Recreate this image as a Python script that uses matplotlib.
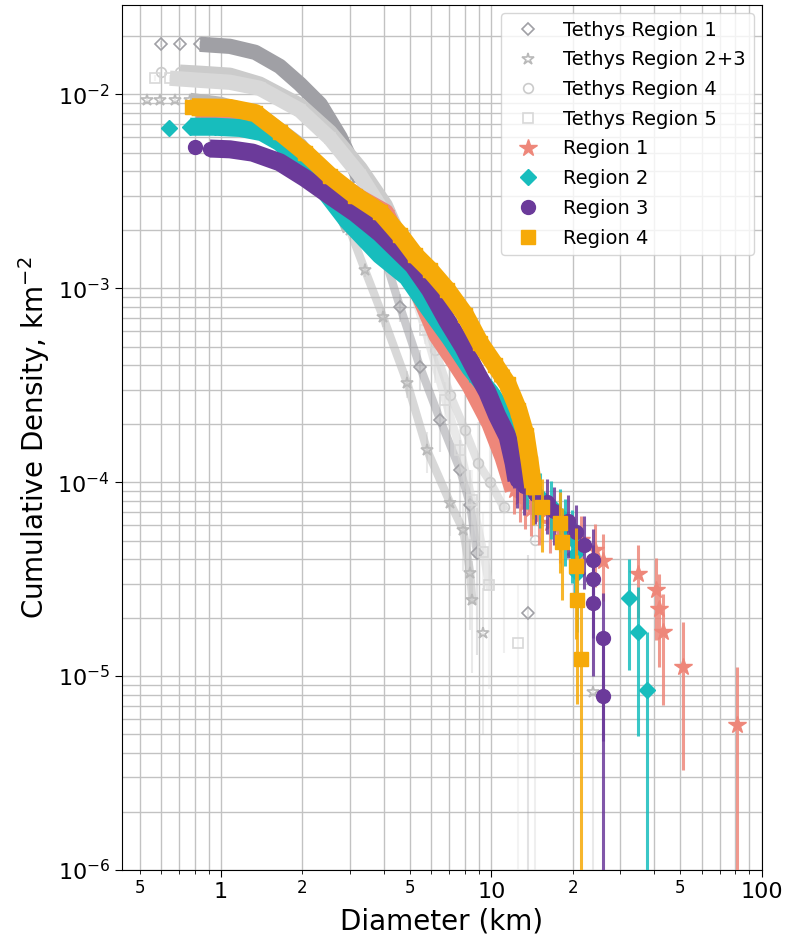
import numpy as np
import matplotlib.pyplot as plt
from matplotlib.lines import Line2D
from matplotlib.ticker import LogLocator, FuncFormatter, NullFormatter

# Cumulative crater densities (km^-2) versus crater diameter (km).
# Tethys comparison regions
t1_d = [0.60, 0.705, 0.836, 1.08, 1.34, 1.65, 1.96, 2.33, 2.76, 3.27, 3.88,
        4.60, 5.46, 6.47, 7.68, 8.36, 8.87, 13.7]
t1_n = [0.0181, 0.0181, 0.0181, 0.01766, 0.01644, 0.01393, 0.01128, 0.00887,
        0.00600, 0.00360, 0.00170, 0.000800, 0.000390, 0.000209, 0.000115,
        7.6e-5, 4.3e-5, 2.11e-5]

t23_d = [0.532, 0.594, 0.676, 0.768, 0.996, 1.39, 1.96, 2.53, 3.00, 3.41, 3.98,
         4.89, 5.79, 7.05, 7.87, 8.36, 8.50, 9.34, 23.7]
t23_n = [0.00931, 0.00931, 0.0093, 0.0093, 0.00887, 0.0078, 0.00546, 0.0034,
         0.00199, 0.00124, 0.00071, 0.000324, 0.000146, 7.8e-5, 5.66e-5,
         3.4e-5, 2.47e-5, 1.67e-5, 8.28e-6]

t4_d = [0.60, 0.705, 0.836, 1.08, 1.39, 1.96, 2.53, 3.27, 4.05, 4.80, 5.46,
        6.20, 7.05, 8.01, 8.95, 9.91, 11.1, 14.5]
t4_n = [0.01297, 0.0130, 0.01283, 0.01253, 0.01128, 0.00877, 0.00637, 0.00415,
        0.00268, 0.00157, 0.000867, 0.000479, 0.000281, 0.000185, 0.000125,
        1.0e-4, 7.43e-5, 5.02e-5]

t5_d = [0.570, 0.647, 0.836, 1.08, 1.39, 1.96, 2.53, 3.27, 4.05, 4.80, 5.70,
        6.76, 7.68, 8.50, 9.34, 9.83, 12.6]
t5_n = [0.01208, 0.0121, 0.0118, 0.01153, 0.01074, 0.00827, 0.00593, 0.00382,
        0.00238, 0.00131, 0.000608, 0.000265, 0.000146, 8.07e-5, 4.36e-5,
        2.94e-5, 1.48e-5]

# Mapped regions
r1_d = [0.84, 1.28, 1.80, 2.53, 3.27, 4.05, 4.60, 5.23, 5.80, 6.31, 7.36, 8.36,
        9.91, 11.1, 12.1, 12.8, 13.3, 14.0, 15.0, 16.5, 18.0, 21.5, 24.1,
        25.8, 35.0, 40.5, 41.9, 43.0, 51.0, 80.8]
r1_n = [0.0080, 0.0077, 0.0057, 0.0037, 0.0029, 0.00245, 0.00170, 0.00105,
        0.00075, 0.000572, 0.000416, 0.000316, 0.000201, 0.000134, 9.1e-5,
        8.38e-5, 7.82e-5, 7.26e-5, 6.70e-5, 6.15e-5, 5.59e-5, 5.03e-5,
        4.47e-5, 3.91e-5, 3.35e-5, 2.79e-5, 2.23e-5, 1.68e-5, 1.12e-5, 5.6e-6]

r2_d = [0.64, 0.77, 0.95, 1.18, 1.42, 1.65, 1.96, 2.33, 2.93, 3.88, 4.89, 5.94,
        7.05, 8.36, 9.91, 11.3, 12.3, 13.0, 13.6, 14.3, 15.2, 16.6, 18.0,
        18.8, 19.9, 20.4, 20.8, 32.4, 35.0, 37.8]
r2_n = [0.00668, 0.0068, 0.0068, 0.0067, 0.00637, 0.00566, 0.00457, 0.0034,
        0.00224, 0.00148, 0.00114, 0.00077, 0.000553, 0.000387, 0.00029,
        0.000221, 0.000165, 0.000122, 1.02e-4, 9.3e-5, 8.47e-5, 7.63e-5,
        6.78e-5, 5.93e-5, 5.08e-5, 4.24e-5, 3.39e-5, 2.54e-5, 1.69e-5, 8.47e-6]

r3_d = [0.80, 0.91, 1.08, 1.31, 1.65, 2.05, 2.53, 3.14, 3.88, 5.14, 5.94, 6.87,
        7.88, 8.73, 9.67, 10.5, 11.5, 12.1, 12.4, 13.2, 14.5, 16.1, 17.0,
        19.3, 20.6, 22.1, 23.7, 23.7, 23.7, 26.0, 26.0]
r3_n = [0.00533, 0.00525, 0.0052, 0.0050, 0.00446, 0.00369, 0.0030, 0.00244,
        0.00192, 0.00131, 0.00098, 0.00068, 0.000497, 0.000378, 0.000291,
        0.000221, 0.000171, 0.000125, 0.000102, 9.5e-5, 8.7e-5, 7.9e-5,
        7.1e-5, 6.31e-5, 5.53e-5, 4.74e-5, 3.95e-5, 3.16e-5, 2.37e-5,
        1.58e-5, 7.9e-6]

r4_d = [0.78, 1.08, 1.34, 1.65, 2.05, 2.53, 3.14, 3.88, 4.60, 5.23, 5.94, 6.87,
        8.0, 9.1, 10.35, 11.5, 12.6, 13.4, 13.9, 14.3, 15.4, 17.9, 18.3,
        20.6, 20.8, 21.4]
r4_n = [0.00857, 0.0085, 0.0080, 0.0064, 0.0050, 0.0038, 0.0030, 0.00247,
        0.00188, 0.00148, 0.00124, 0.00098, 0.00073, 0.00052, 0.00040,
        0.00032, 0.000235, 0.000175, 0.000125, 9.4e-5, 7.4e-5, 6.15e-5,
        4.92e-5, 3.69e-5, 2.46e-5, 1.23e-5]

# counting areas (km^2) used for the Poisson error bars
areas = {"t1": 47400, "t23": 120800, "t4": 19900, "t5": 67600,
         "r1": 179000, "r2": 118000, "r3": 126700, "r4": 81300}

# label, data, area key, colour, marker, hollow,
# index range of the solid run, end index of the fainter chain below it
series = [
    ("Tethys Region 1", t1_d, t1_n, "t1", "#a0a0a5", "D", True, (2, 10), 17),
    ("Tethys Region 2+3", t23_d, t23_n, "t23", "#b9b9b9", "*", True, (3, 9), 17),
    ("Tethys Region 4", t4_d, t4_n, "t4", "#cbcbcb", "o", True, (1, 10), 17),
    ("Tethys Region 5", t5_d, t5_n, "t5", "#d8d8d8", "s", True, (1, 10), 16),
    ("Region 1", r1_d, r1_n, "r1", "#ee877a", "*", False, (0, 15), 15),
    ("Region 2", r2_d, r2_n, "r2", "#17bdbd", "D", False, (1, 18), 18),
    ("Region 3", r3_d, r3_n, "r3", "#6b3a9a", "o", False, (1, 19), 19),
    ("Region 4", r4_d, r4_n, "r4", "#f6aa08", "s", False, (0, 20), 20),
]

fig = plt.figure(figsize=(7.86, 9.36), dpi=100)
ax = fig.add_axes([0.155, 0.0705, 0.814, 0.924])
ax.set_xscale("log")
ax.set_yscale("log")

handles = []
for z, (label, d, n, key, color, marker, hollow, dense, chain) in enumerate(series):
    d = np.asarray(d)
    n = np.asarray(n)
    err = np.sqrt(n / areas[key])
    if hollow:
        ms, band_lw, err_alpha, elw = 7, 11, 0.3, 1.5
    else:
        ms, band_lw, err_alpha, elw = 10, 13, 0.85, 2.2
    if marker == "*":
        ms *= 1.3
    if marker == "D":
        ms *= 0.85
    ax.errorbar(d, n, yerr=err, fmt="none", ecolor=color, elinewidth=elw,
                alpha=err_alpha, zorder=2 + z)
    lo, hi = dense
    ax.plot(d[lo:hi], n[lo:hi], "-", color=color, lw=band_lw,
            solid_capstyle="butt", solid_joinstyle="round", zorder=2 + z)
    if chain > hi:
        ax.plot(d[hi - 1:chain], n[hi - 1:chain], "-", color=color, lw=6,
                alpha=0.55, solid_joinstyle="round", zorder=2 + z)
    ax.plot(d, n, ls="none", marker=marker, ms=ms, color=color,
            mfc="none" if hollow else color, mew=1.2 if hollow else 1,
            zorder=2 + z)
    handles.append(Line2D([], [], ls="none", marker=marker, color=color,
                          ms=ms, mfc="none" if hollow else color,
                          mew=1.2 if hollow else 1, label=label))

ax.set_xlim(0.43, 100)
ax.set_ylim(1e-6, 0.0288)

ax.xaxis.set_major_locator(LogLocator(base=10, numticks=10))
ax.xaxis.set_minor_locator(LogLocator(base=10, subs=np.arange(2, 10), numticks=20))
ax.xaxis.set_major_formatter(FuncFormatter(lambda v, p: f"{v:g}"))


def minor_label(v, pos):
    lead = v / 10 ** np.floor(np.log10(v) + 1e-9)
    return f"{lead:.0f}" if round(lead) in (2, 5) else ""


ax.xaxis.set_minor_formatter(FuncFormatter(minor_label))
ax.yaxis.set_minor_locator(LogLocator(base=10, subs=np.arange(2, 10), numticks=20))
ax.yaxis.set_minor_formatter(NullFormatter())

ax.tick_params(axis="both", which="major", labelsize=16, length=5)
ax.tick_params(axis="x", which="minor", labelsize=12, length=3)
ax.tick_params(axis="y", which="minor", length=0)
ax.grid(True, which="both", color="#c2c2c2", lw=1.0)
ax.set_axisbelow(True)

ax.set_xlabel("Diameter (km)", fontsize=20, labelpad=4)
ax.set_ylabel("Cumulative Density, km$^{-2}$", fontsize=20)

ax.legend(handles=handles, loc="upper right", fontsize=14, labelspacing=0.55,
          borderaxespad=0.4, handletextpad=0.8)

fig.savefig("out.png", dpi=100)
